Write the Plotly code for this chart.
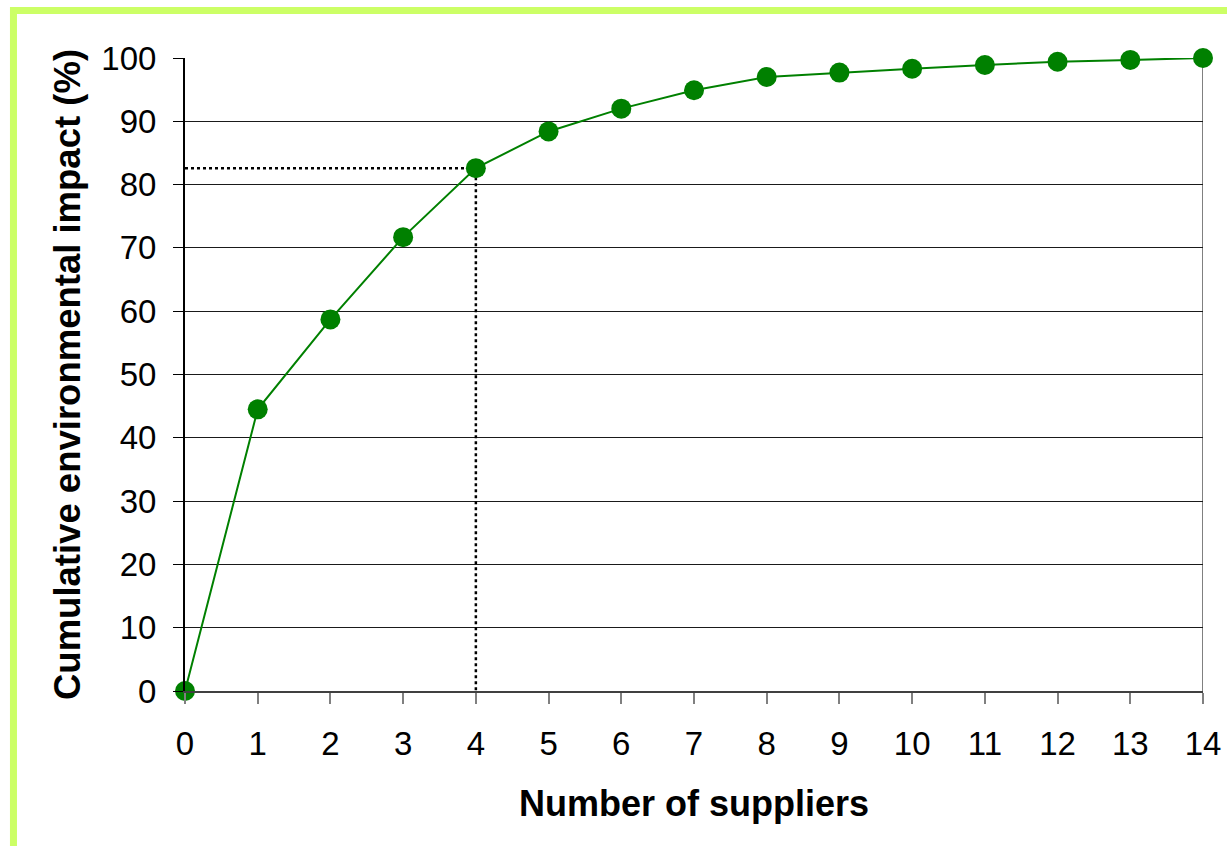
import plotly.graph_objects as go

# Cumulative share of environmental impact vs. number of suppliers
suppliers = list(range(15))
cumulative_impact = [0, 44.5, 58.7, 71.7, 82.6, 88.4, 92.0, 94.9, 97.0, 97.7,
                     98.3, 98.9, 99.4, 99.7, 100]
x_ticks = list(range(15))
y_ticks = list(range(0, 101, 10))

# Reference point highlighted by the dotted guide lines
ref_index = 4

GREEN = "#008000"
FONT = "Liberation Sans, Arial, sans-serif"

fig = go.Figure()

ref_x = suppliers[ref_index]
ref_y = cumulative_impact[ref_index]

# dotted guides: horizontal from the y axis, vertical down to the x axis
fig.add_trace(go.Scatter(
    x=[suppliers[0], ref_x, ref_x], y=[ref_y, ref_y, 0],
    mode="lines", line=dict(color="black", width=2.5, dash="dot"),
    hoverinfo="skip", showlegend=False,
))

fig.add_trace(go.Scatter(
    x=suppliers, y=cumulative_impact,
    mode="lines+markers",
    line=dict(color=GREEN, width=2),
    marker=dict(color=GREEN, size=20),
    showlegend=False, cliponaxis=False,
))

# right-hand frame edge of the plot area
fig.add_shape(type="line", xref="x", yref="y", x0=14, x1=14, y0=0, y1=100,
              line=dict(color="#808080", width=2), layer="below")

# light green border round the chart area
fig.add_shape(type="rect", xref="paper", yref="paper",
              x0=-0.1685, x1=1.2, y0=-0.6, y1=1.075,
              line=dict(color="#CCFF66", width=7), layer="below")

fig.update_layout(
    width=1227, height=846,
    margin=dict(l=185, r=24, t=58, b=155),
    paper_bgcolor="white", plot_bgcolor="white",
    font=dict(family=FONT, color="black"),
)

fig.update_xaxes(
    range=[0, 14], tickvals=x_ticks, ticktext=[str(v) for v in x_ticks],
    automargin=False,
    showgrid=False, zeroline=False,
    showline=True, linecolor="#404040", linewidth=2,
    ticks="outside", ticklen=11, tickwidth=2, tickcolor="#808080",
    tickfont=dict(size=33), ticklabelstandoff=11,
    title=dict(text="<b>Number of suppliers</b>", font=dict(size=36), standoff=30),
)

fig.update_yaxes(
    range=[0, 100], tickvals=y_ticks, ticktext=[str(v) for v in y_ticks],
    automargin=False,
    showgrid=True, gridcolor="#1a1a1a", gridwidth=1, zeroline=False,
    showline=True, linecolor="black", linewidth=2,
    ticks="outside", ticklen=10, tickwidth=1, tickcolor="black",
    tickfont=dict(size=33), ticklabelstandoff=10,
    title=dict(text="<b>Cumulative environmental impact (%)</b>",
               font=dict(size=36.5), standoff=10),
)

fig.write_html("out.html")
